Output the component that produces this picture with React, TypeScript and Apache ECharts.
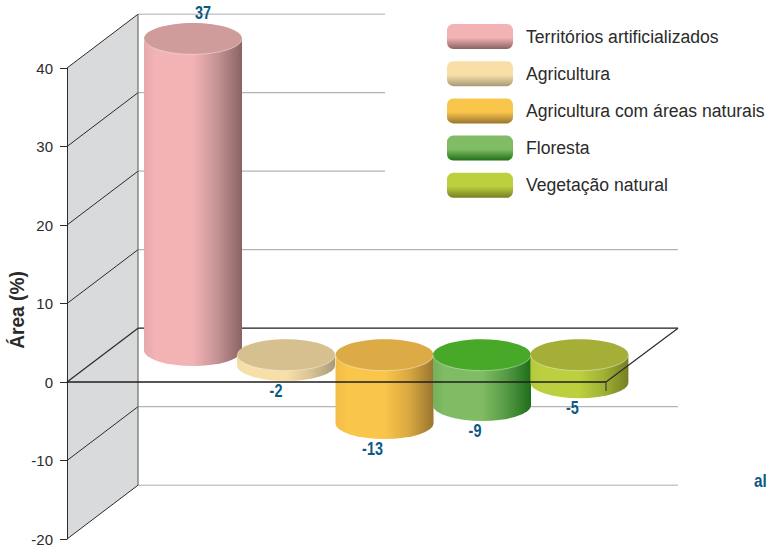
import React, { useEffect, useRef } from "react";
import * as echarts from "echarts";

const categories = ["Territórios artificializados", "Agricultura", "Agricultura com áreas naturais", "Floresta", "Vegetação natural"];
const areaLabels = [37, -2, -13, -9, -5];
const drawnTop = [40.3, 0, 0, 0, 0];
const drawnBase = [0.6, -1.3, -8.7, -6.4, -3.5];
const yTicks = [40, 30, 20, 10, 0, -10, -20];
const axisName = "Área (%)";
const strayText = "al";

const palettes = [
  { edge: "#e6a9ac", mid: "#f3b3b5", shade: "#c49293", dark: "#8a6364", top: "#cf9b9b" },
  { edge: "#f5dca4", mid: "#f8dfa8", shade: "#d9c496", dark: "#a89a78", top: "#d6c08f" },
  { edge: "#f4bc48", mid: "#fac54b", shade: "#d9a840", dark: "#9a7530", top: "#dcab46" },
  { edge: "#74b05e", mid: "#80bc63", shade: "#559a45", dark: "#1f6e1a", top: "#48a928" },
  { edge: "#b5c93c", mid: "#bccf3e", shade: "#a0b134", dark: "#757f22", top: "#a5af38" },
];
const labelDx = [10, -10, -12, -7, -7];
const centreDx = [0, -3.6, -1.7, -0.8, 0];

const FONT = '"Liberation Sans", sans-serif';
const BLUE = "#0b5a84";
const INK = "#2b2b2b";
const FRONT_LEFT = 67;
const FRONT_RIGHT = 606;
const DX = 71;
const DY = -53.8;
const BACK_RIGHT = 678;
const LEGEND_EDGE = 385;
const RX = 49;
const RY = 15.7;

function line(x1: number, y1: number, x2: number, y2: number, stroke: string, lineWidth: number) {
  return { type: "line", shape: { x1, y1, x2, y2 }, style: { stroke, lineWidth } };
}

function renderBack(_p: any, api: any) {
  const yOf = (v: number) => api.coord([0, v])[1];
  const top = yOf(40);
  const bottom = yOf(-20);
  const bx = FRONT_LEFT + DX;
  const children: any[] = [
    {
      type: "polygon",
      shape: { points: [[FRONT_LEFT, top], [bx, top + DY], [bx, bottom + DY], [FRONT_LEFT, bottom]] },
      style: { fill: "#d9dadc" },
    },
  ];
  yTicks.forEach((v) => {
    const y = yOf(v);
    const end = v > 15 ? LEGEND_EDGE : BACK_RIGHT;
    const edge = v === 40 || v === -20;
    children.push(line(bx, y + DY, end, y + DY, edge ? "#c8c8c8" : v === 0 ? "#1e1e1e" : "#b4b4b4", edge ? 1.5 : 1.2));
    if (v !== 0) children.push(line(FRONT_LEFT, y, bx, y + DY, INK, 1));
  });
  children.push(line(bx, top + DY, bx, bottom + DY, "#555", 1));
  return { type: "group", children };
}

function renderFront(_p: any, api: any) {
  const y = api.coord([0, 0])[1];
  const bx = FRONT_LEFT + DX;
  return {
    type: "group",
    children: [
      line(FRONT_LEFT, y, bx, y + DY, INK, 1.2),
      line(FRONT_LEFT, y, FRONT_RIGHT, y, "#1e1e1e", 1.3),
      line(FRONT_RIGHT, y, BACK_RIGHT, y + DY, INK, 1.2),
      line(FRONT_RIGHT, y, FRONT_RIGHT, y + 9, INK, 1),
    ],
  };
}

function makeCylinder(i: number) {
  return (_p: any, api: any) => {
    const p = palettes[i];
    const [x0, topY] = api.coord([api.value(0), api.value(1)]);
    const [, baseY] = api.coord([api.value(0), api.value(2)]);
    const cx = x0 + centreDx[i];
    const d = `M${cx - RX} ${topY}L${cx - RX} ${baseY}A${RX} ${RY} 0 0 0 ${cx + RX} ${baseY}L${cx + RX} ${topY}Z`;
    const rim = `M${cx - RX} ${topY}A${RX} ${RY} 0 0 0 ${cx + RX} ${topY}`;
    const fill = new echarts.graphic.LinearGradient(0, 0, 1, 0, [
      { offset: 0, color: p.edge },
      { offset: 0.12, color: p.mid },
      { offset: 0.5, color: p.mid },
      { offset: 0.75, color: p.shade },
      { offset: 1, color: p.dark },
    ]);
    const value = api.value(3);
    const labelY = value > 0 ? topY - RY - 10.5 : baseY + RY + 9;
    return {
      type: "group",
      children: [
        {
          type: "path",
          shape: { pathData: d, layout: "cover", x: cx - RX, y: topY, width: RX * 2, height: baseY + RY - topY },
          style: { fill },
        },
        { type: "ellipse", shape: { cx, cy: topY, rx: RX, ry: RY }, style: { fill: p.top } },
        {
          type: "path",
          shape: { pathData: rim, layout: "cover", x: cx - RX, y: topY, width: RX * 2, height: RY },
          style: { fill: "none", stroke: "rgba(255,255,255,0.4)", lineWidth: 1 },
        },
        {
          type: "text",
          z2: 100,
          x: cx + labelDx[i],
          y: labelY,
          scaleX: 0.8,
          style: {
            text: String(value),
            align: "center",
            verticalAlign: "middle",
            fill: BLUE,
            font: `bold 18px ${FONT}`,
          },
        },
      ],
    };
  };
}

export default function App() {
  const ref = useRef<HTMLDivElement>(null);
  useEffect(() => {
    document.body.style.margin = "0";
    const chart = echarts.init(ref.current!, null, { renderer: "svg" });
    const swatch = (i: number) =>
      new echarts.graphic.LinearGradient(0, 0, 0, 1, [
        { offset: 0, color: palettes[i].mid },
        { offset: 0.55, color: palettes[i].mid },
        { offset: 1, color: palettes[i].dark },
      ]);
    chart.setOption({
      animation: false,
      backgroundColor: "#ffffff",
      textStyle: { fontFamily: FONT },
      grid: [
        { left: FRONT_LEFT, top: 68, width: FRONT_RIGHT - FRONT_LEFT, height: 471 },
        { left: 144.7, top: 41, width: 483, height: 471 },
      ],
      xAxis: [
        { type: "category", gridIndex: 0, data: categories, show: false },
        { type: "category", gridIndex: 1, data: categories, show: false },
      ],
      yAxis: [
        {
          type: "value",
          gridIndex: 0,
          min: -20,
          max: 40,
          interval: 10,
          splitLine: { show: false },
          axisLine: { show: true, onZero: false, lineStyle: { color: INK, width: 1 } },
          axisTick: { show: true, length: 7, lineStyle: { color: INK, width: 1 } },
          axisLabel: { margin: 14, color: INK, fontSize: 15, fontFamily: FONT },
          z: 3,
        },
        { type: "value", gridIndex: 1, min: -20, max: 40, interval: 10, show: false },
      ],
      legend: {
        show: true,
        orient: "vertical",
        left: 447,
        top: 24,
        padding: 0,
        itemWidth: 66,
        itemHeight: 25,
        itemGap: 12.2,
        selectedMode: false,
        icon: "roundRect",
        data: categories.map((name, i) => ({
          name,
          itemStyle: { color: swatch(i), borderWidth: 0 },
          textStyle: { color: INK, fontFamily: FONT, fontSize: 17.6, padding: [3, 0, 0, 8] },
        })),
      },
      series: [
        { type: "custom", name: "walls", z: 1, xAxisIndex: 0, yAxisIndex: 0, data: [[0, 0]], renderItem: renderBack, silent: true },
        ...categories.map((name, i) => ({
          type: "custom",
          name,
          z: 3 + i,
          xAxisIndex: 1,
          yAxisIndex: 1,
          encode: { x: 0, y: 1 },
          data: [[name, drawnTop[i], drawnBase[i], areaLabels[i]]],
          renderItem: makeCylinder(i),
          itemStyle: { color: palettes[i].mid },
        })),
        { type: "custom", name: "plane", z: 10, xAxisIndex: 0, yAxisIndex: 0, data: [[0, 0]], renderItem: renderFront, silent: true },
      ],
      graphic: [
        {
          type: "text",
          x: 17,
          y: 310,
          rotation: Math.PI / 2,
          scaleX: 0.91,
          style: { text: axisName, align: "center", verticalAlign: "middle", fill: INK, font: `bold 21px ${FONT}` },
        },
        {
          type: "text",
          x: 754,
          y: 481,
          scaleX: 0.85,
          style: { text: strayText, align: "left", verticalAlign: "middle", fill: BLUE, font: `bold 18px ${FONT}` },
        },
      ],
    });
    return () => chart.dispose();
  }, []);
  return <div ref={ref} style={{ width: 766, height: 550 }} />;
}
